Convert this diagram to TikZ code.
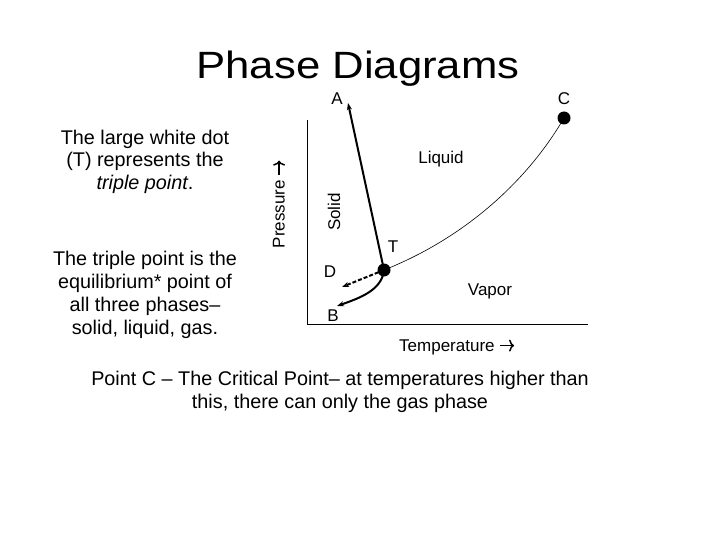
\documentclass[tikz,border=0pt]{standalone}
\usepackage{fontspec}
\setmainfont{Liberation Sans}
\newfontfamily\titlefont[FakeStretch=1.15]{Liberation Sans}
\usetikzlibrary{arrows.meta}
\newcommand\myrarrow{\tikz[baseline=0pt, x=1pt, y=1pt]\draw[line width=1.5pt, -{To[length=5pt,width=12pt,line width=1.5pt]}] (0,5.5) -- (14,5.5);}
\tikzset{
  lbl/.style={inner sep=0pt, font=\fontsize{17}{20}\selectfont},
  para/.style={inner sep=0pt, align=center, font=\fontsize{19.8}{23}\selectfont},
  dotstyle/.style={circle, fill=black, inner sep=0pt, minimum size=13pt},
  tip/.style={-{Stealth[length=7pt,width=5pt]}},
  phase/.style={line width=2pt},
}
\begin{document}
\begin{tikzpicture}[x=1pt,y=-1pt]
\useasboundingbox (0,0) rectangle (720,540);
% title
\node[inner sep=0pt, font=\titlefont\fontsize{38}{44}\selectfont, anchor=base] (title) at (358,79) {Phase Diagrams};
% left text (anchor base = last line)
\node[para, anchor=base] (p1) at (145,190) {The large white dot\\(T) represents the\\\textit{triple point}.};
\node[para, anchor=base] (p2) at (145,334) {The triple point is the\\equilibrium* point of\\all three phases--\\solid, liquid, gas.};
% bottom text
\node[para, anchor=base] (p3) at (340,408) {Point C -- The Critical Point-- at temperatures higher than\\this, there can only the gas phase};
% axes
\coordinate (o) at (307,324);
\coordinate (ytop) at (307,120);
\coordinate (xend) at (588,324);
\draw[line width=1pt] (ytop) -- (o) -- (xend);
\node[lbl, rotate=90] (pl) at (279,204) {Pressure \myrarrow};
\node[lbl] (tl) at (457,347) {Temperature \myrarrow};
% points
\node[dotstyle] (T) at (384,270) {};
\node[dotstyle] (C) at (564,118) {};
\coordinate (A) at (348,103);
\coordinate (D) at (342,287);
\coordinate (B) at (337,306);
% curves
\draw[phase, tip] (T.center) -- (A);
\draw[line width=0.6pt] (T.center) .. controls (460,240) and (525,185) .. (C.center);
\draw[phase, tip, dashed, dash pattern=on 4pt off 2pt] (T.center) -- (D);
\draw[phase, tip] (T.center) .. controls (382,290) and (360,298) .. (B);
% labels
\node[lbl] (la) at (337,99) {A};
\node[lbl] (lc) at (564,99) {C};
\node[lbl] (lt) at (393,247) {T};
\node[lbl] (ld) at (330,272) {D};
\node[lbl] (lb) at (333,316) {B};
\node[lbl] (liq) at (441,159) {Liquid};
\node[lbl] (vap) at (490,291) {Vapor};
\node[lbl, rotate=90] (sol) at (334,212) {Solid};
\end{tikzpicture}
\end{document}
